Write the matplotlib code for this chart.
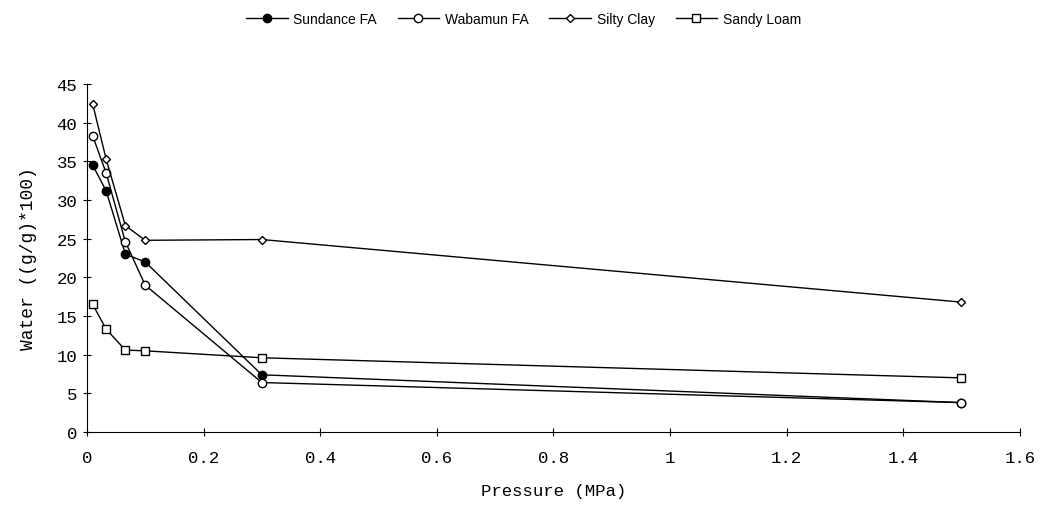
import matplotlib
matplotlib.use("Agg")
import matplotlib.pyplot as plt

# ====================================
# DATA
# ====================================

pressure = [0.01, 0.033, 0.066, 0.1, 0.3, 1.5]

sundance_fa = [34.5, 31.2, 23.0, 22.0, 7.4, 3.8]
wabamun_fa = [38.3, 33.5, 24.6, 19.0, 6.4, 3.8]
silty_clay = [42.4, 35.3, 26.7, 24.8, 24.9, 16.8]
sandy_loam = [16.5, 13.3, 10.6, 10.5, 9.6, 7.0]

x_ticks = [0, 0.2, 0.4, 0.6, 0.8, 1, 1.2, 1.4, 1.6]
x_tick_labels = ["0", "0.2", "0.4", "0.6", "0.8", "1", "1.2", "1.4", "1.6"]
y_ticks = [0, 5, 10, 15, 20, 25, 30, 35, 40, 45]

# ====================================
# FIGURE
# ====================================

fig = plt.figure(figsize=(10.47, 5.10), dpi=100)
ax = fig.add_axes([0.083, 0.151, 0.891, 0.682])

mono = "Liberation Mono"

ax.plot(pressure, sundance_fa, color="black", lw=1.0, marker="o",
        ms=6, mfc="black", mec="black", label="Sundance FA")
ax.plot(pressure, wabamun_fa, color="black", lw=1.0, marker="o",
        ms=6, mfc="white", mec="black", label="Wabamun FA")
ax.plot(pressure, silty_clay, color="black", lw=1.0, marker="D",
        ms=4.5, mfc="white", mec="black", label="Silty Clay")
ax.plot(pressure, sandy_loam, color="black", lw=1.0, marker="s",
        ms=6, mfc="white", mec="black", label="Sandy Loam")

ax.set_xlim(0, 1.6)
ax.set_ylim(0, 45)

ax.set_xticks(x_ticks)
ax.set_xticklabels(x_tick_labels, fontfamily=mono, fontsize=12.5)
ax.set_yticks(y_ticks)
ax.set_yticklabels([str(v) for v in y_ticks], fontfamily=mono, fontsize=12.5)

ax.tick_params(axis="both", direction="inout", length=6, width=0.8)
ax.tick_params(axis="x", pad=10)
ax.tick_params(axis="y", pad=4)

ax.spines["top"].set_visible(False)
ax.spines["right"].set_visible(False)
ax.spines["left"].set_linewidth(0.8)
ax.spines["bottom"].set_linewidth(0.8)

ax.set_xlabel("Pressure (MPa)", fontfamily=mono, fontsize=12.5, labelpad=13)
ax.set_ylabel("Water ((g/g)*100)", fontfamily=mono, fontsize=13, labelpad=14)

fig.legend(loc="upper center", bbox_to_anchor=(0.5, 1.0), ncol=4,
           frameon=False, handlelength=3.0,
           columnspacing=1.5, handletextpad=0.4,
           prop={"family": "Liberation Sans", "size": 10})

fig.savefig("out.png", dpi=100)
